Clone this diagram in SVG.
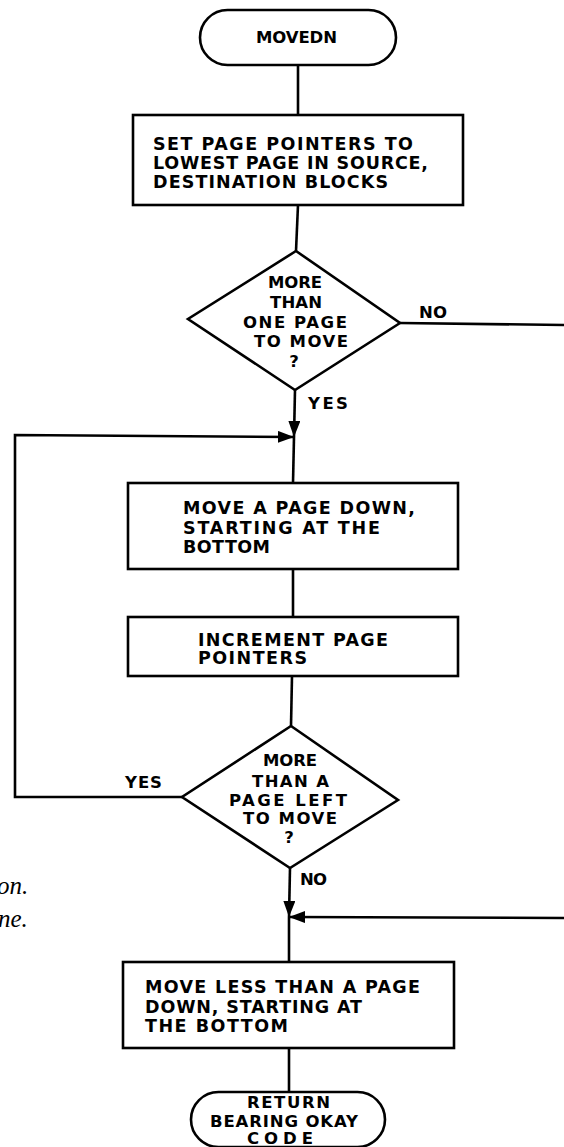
<svg xmlns="http://www.w3.org/2000/svg" width="564" height="1147" viewBox="0 0 564 1147">
<style>
.s{fill:#fff;stroke:#000;stroke-width:2.6;stroke-linejoin:miter}
.c{fill:none;stroke:#000;stroke-width:2.6}
.t{font-family:"DejaVu Sans","Liberation Sans",Arial,sans-serif;font-weight:bold;font-size:16.5px;fill:#000}
.b{font-size:17.5px}
.m{text-anchor:middle}
.i{font-family:"Liberation Serif","Times New Roman",serif;font-style:italic;font-size:25px;fill:#000}
</style>
<defs>
<marker id="ah" markerUnits="userSpaceOnUse" markerWidth="16" markerHeight="12" refX="16" refY="6" orient="auto">
<path d="M0,0 L16,6 L0,12 z" fill="#000"/>
</marker>
</defs>
<rect width="564" height="1147" fill="#fff"/>
<g id="connectors">
<path class="c" d="M298,65 L298,115"/>
<path class="c" d="M298,205 L296,251"/>
<path class="c" d="M400,323 L564,325"/>
<path class="c" d="M295,390 L294,437" marker-end="url(#ah)"/>
<path class="c" d="M294,437 L293,483"/>
<path class="c" d="M182,797 L15,797 L15,435 L294,437" marker-end="url(#ah)"/>
<path class="c" d="M293,569 L293,617"/>
<path class="c" d="M292,676 L291,726"/>
<path class="c" d="M290,868 L289,917" marker-end="url(#ah)"/>
<path class="c" d="M564,918 L289,917" marker-end="url(#ah)"/>
<path class="c" d="M289,917 L289,962"/>
<path class="c" d="M289,1048 L289,1092"/>
<text class="t" x="419" y="318" textLength="28" lengthAdjust="spacing">NO</text>
<text class="t" x="308" y="409" textLength="40" lengthAdjust="spacing">YES</text>
<text class="t" x="125" y="788" textLength="37" lengthAdjust="spacing">YES</text>
<text class="t" x="300" y="885" textLength="27" lengthAdjust="spacing">NO</text>
</g>
<g id="start">
<rect class="s" x="200" y="10" width="196" height="55" rx="27.5"/>
<text class="t" x="256" y="43" textLength="81" lengthAdjust="spacing">MOVEDN</text>
</g>
<g id="setPointers">
<rect class="s" x="133" y="115" width="330" height="90"/>
<text class="t b" x="153" y="150" textLength="260" lengthAdjust="spacing">SET PAGE POINTERS TO</text>
<text class="t b" x="153" y="169" textLength="275" lengthAdjust="spacing">LOWEST PAGE IN SOURCE,</text>
<text class="t b" x="153" y="188" textLength="235" lengthAdjust="spacing">DESTINATION BLOCKS</text>
</g>
<g id="decision1">
<polygon class="s" points="296,251 400,323 295,390 188,319"/>
<text class="t" x="268" y="288" textLength="54" lengthAdjust="spacing">MORE</text>
<text class="t" x="270" y="308" textLength="52" lengthAdjust="spacing">THAN</text>
<text class="t" x="243" y="328" textLength="104" lengthAdjust="spacing">ONE PAGE</text>
<text class="t" x="254" y="347" textLength="94" lengthAdjust="spacing">TO MOVE</text>
<text class="t m" x="294" y="367">?</text>
</g>
<g id="movePage">
<rect class="s" x="128" y="483" width="330" height="86"/>
<text class="t b" x="183" y="514" textLength="232" lengthAdjust="spacing">MOVE A PAGE DOWN,</text>
<text class="t b" x="183" y="534" textLength="197" lengthAdjust="spacing">STARTING AT THE</text>
<text class="t b" x="183" y="553" textLength="87" lengthAdjust="spacing">BOTTOM</text>
</g>
<g id="increment">
<rect class="s" x="128" y="617" width="330" height="59"/>
<text class="t b" x="198" y="646" textLength="190" lengthAdjust="spacing">INCREMENT PAGE</text>
<text class="t b" x="198" y="664" textLength="109" lengthAdjust="spacing">POINTERS</text>
</g>
<g id="decision2">
<polygon class="s" points="291,726 398,800 290,868 182,797"/>
<text class="t" x="263" y="766" textLength="54" lengthAdjust="spacing">MORE</text>
<text class="t" x="252" y="787" textLength="77" lengthAdjust="spacing">THAN A</text>
<text class="t" x="229" y="806" textLength="118" lengthAdjust="spacing">PAGE LEFT</text>
<text class="t" x="243" y="824" textLength="94" lengthAdjust="spacing">TO MOVE</text>
<text class="t m" x="289" y="843">?</text>
</g>
<g id="moveLess">
<rect class="s" x="123" y="962" width="331" height="86"/>
<text class="t b" x="145" y="993" textLength="275" lengthAdjust="spacing">MOVE LESS THAN A PAGE</text>
<text class="t b" x="145" y="1013" textLength="217" lengthAdjust="spacing">DOWN, STARTING AT</text>
<text class="t b" x="145" y="1032" textLength="143" lengthAdjust="spacing">THE BOTTOM</text>
</g>
<g id="end">
<rect class="s" x="191" y="1092" width="194" height="55" rx="27.5"/>
<text class="t" x="247" y="1108" textLength="83" lengthAdjust="spacing">RETURN</text>
<text class="t" x="210" y="1127" textLength="148" lengthAdjust="spacing">BEARING OKAY</text>
<text class="t" x="247" y="1144" textLength="66" lengthAdjust="spacing">CODE</text>
</g>
<g id="caption">
<text class="i" x="-3" y="894">on.</text>
<text class="i" x="-2" y="927">ne.</text>
</g>
</svg>
